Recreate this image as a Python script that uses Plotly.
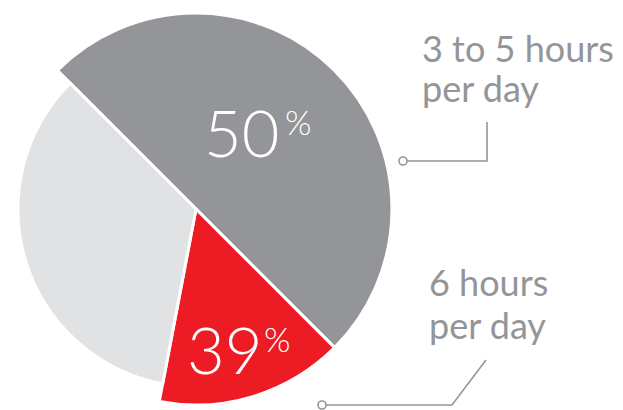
import plotly.graph_objects as go

# ---- data ----
categories = ["3 to 5 hours per day", "6 hours per day", "Other"]
slice_values = [50, 15.5, 34.5]          # angular shares as drawn
label_values = ["50", "39"]              # printed percentages
label_texts = [["3 to 5 hours", "per day"], ["6 hours", "per day"]]

GRAY = "#939598"
RED = "#ED1C24"
LIGHT = "#E1E2E4"
TEXT = "#939598"
CLEAR = "rgba(0,0,0,0)"

W, H = 623, 410


def px(x):
    return x / W


def py(y):
    return 1 - y / H


fig = go.Figure()

# outer pie (gray + red)
cx, cy, r1, r2 = 196, 209, 196, 178
fig.add_trace(go.Pie(
    labels=categories, values=slice_values, sort=False, direction="clockwise",
    rotation=-45, textinfo="none", hoverinfo="skip", showlegend=False,
    marker=dict(colors=[GRAY, RED, CLEAR], line=dict(color="white", width=[3, 3, 0])),
    domain=dict(x=[px(cx - r1), px(cx + r1)], y=[py(cy + r1), py(cy - r1)]),
))
# inner pie (light gray slice at smaller radius)
fig.add_trace(go.Pie(
    labels=categories, values=slice_values, sort=False, direction="clockwise",
    rotation=-45, textinfo="none", hoverinfo="skip", showlegend=False,
    marker=dict(colors=[CLEAR, CLEAR, LIGHT], line=dict(color="white", width=[0, 0, 3])),
    domain=dict(x=[px(cx - r2), px(cx + r2)], y=[py(cy + r2), py(cy - r2)]),
))

big = dict(family="Lato", size=65, color="white", weight=300)
small = dict(family="Lato", size=34, color="white", weight=300)
lab = dict(family="Lato", size=36, color=TEXT)

ann = [
    dict(x=px(241), y=py(132), text=label_values[0], font=big, xanchor="center", yanchor="middle"),
    dict(x=px(283), y=py(121), text="%", font=small, xanchor="left", yanchor="middle"),
    dict(x=px(224), y=py(349), text=label_values[1], font=big, xanchor="center", yanchor="middle"),
    dict(x=px(262), y=py(338), text="%", font=small, xanchor="left", yanchor="middle"),
    dict(x=px(420), y=py(48), text=label_texts[0][0], font=lab, xanchor="left", yanchor="middle"),
    dict(x=px(420), y=py(88), text=label_texts[0][1], font=lab, xanchor="left", yanchor="middle"),
    dict(x=px(427), y=py(282), text=label_texts[1][0], font=lab, xanchor="left", yanchor="middle"),
    dict(x=px(427), y=py(325), text=label_texts[1][1], font=lab, xanchor="left", yanchor="middle"),
]
for a in ann:
    a.update(xref="paper", yref="paper", showarrow=False)

line = dict(color=GRAY, width=1.6)
shapes = [
    dict(type="path", path=f"M {px(487)} {py(122)} L {px(487)} {py(161)} L {px(407)} {py(161)}", line=line),
    dict(type="circle", x0=px(399), x1=px(407), y0=py(165), y1=py(157), line=line, fillcolor="white"),
    dict(type="path", path=f"M {px(486)} {py(360)} L {px(452)} {py(405)} L {px(326)} {py(405)}", line=line),
    dict(type="circle", x0=px(318), x1=px(326), y0=py(409), y1=py(401), line=line, fillcolor="white"),
]
for s in shapes:
    s.update(xref="paper", yref="paper")

fig.update_layout(
    width=W, height=H, margin=dict(l=0, r=0, t=0, b=0),
    paper_bgcolor="white", plot_bgcolor="white",
    annotations=ann, shapes=shapes,
)
fig.write_html(
    "out.html",
    config={"displayModeBar": False, "staticPlot": True},
    post_script="document.body.style.margin='0';document.body.style.overflow='hidden';",
)
